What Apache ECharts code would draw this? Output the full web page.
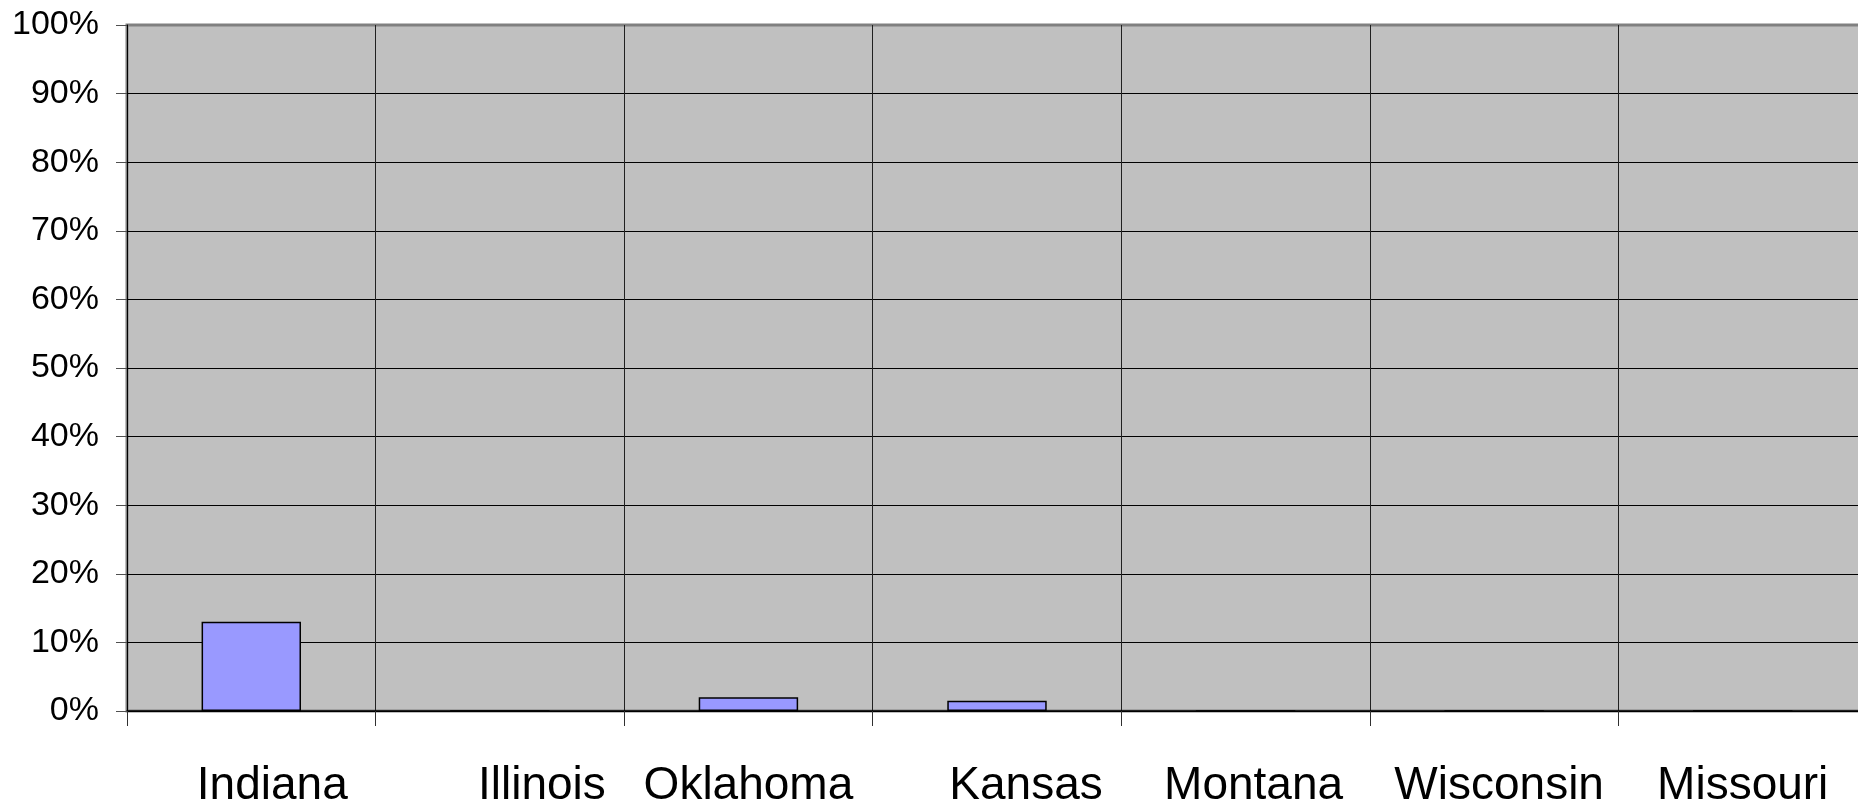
<!DOCTYPE html>
<html>
<head>
<meta charset="utf-8">
<title>Share by state</title>
<script src="https://cdn.jsdelivr.net/npm/echarts@6/dist/echarts.min.js"></script>
<style>
  html, body { margin: 0; padding: 0; background: #ffffff; }
  #chart { width: 1858px; height: 808px; }
</style>
</head>
<body>
<div id="chart"></div>
<script>
// Categories and values (percent)
const states = ['Indiana', 'Illinois', 'Oklahoma', 'Kansas', 'Montana', 'Wisconsin', 'Missouri'];
const shares = [13, 0, 2, 1.5, 0, 0, 0];
const yTicks = [0, 10, 20, 30, 40, 50, 60, 70, 80, 90, 100];

// Horizontal nudge (px) of each category label from its slot centre
const labelNudge = [21, 42, 0, 29, 8, 5, 0];

// Grid lines are black; the top one blends with the grey frame
const hLineColors = yTicks.map((t, i) => (i === yTicks.length - 1 ? '#808080' : '#000000'));
const hLineWidths = 1;

const chart = echarts.init(document.getElementById('chart'), null, { renderer: 'canvas' });

chart.setOption({
  animation: false,
  backgroundColor: '#ffffff',
  grid: {
    left: 127, top: 25, bottom: 97, width: 1740,
    outerBoundsMode: 'none',
    containLabel: false,
    show: true,
    backgroundColor: '#C0C0C0',
    borderColor: '#808080',
    borderWidth: 3
  },
  xAxis: {
    type: 'category',
    data: states.map((s, i) => ({
      value: s,
      textStyle: { padding: [0, 0, 0, labelNudge[i] * 2] }
    })),
    boundaryGap: true,
    axisLine: { show: true, lineStyle: { color: '#000000', width: 1.5 } },
    axisTick: { show: true, length: 15, lineStyle: { color: '#303030', width: 1 } },
    splitLine: { show: true, lineStyle: { color: '#202020', width: 1 } },
    axisLabel: {
      interval: 0,
      margin: 52,
      color: '#000000',
      fontFamily: 'Liberation Sans, Arial, sans-serif',
      fontSize: 46
    }
  },
  yAxis: {
    type: 'value',
    min: yTicks[0],
    max: yTicks[yTicks.length - 1],
    interval: yTicks[1] - yTicks[0],
    axisLine: { show: true, lineStyle: { color: '#000000', width: 1 } },
    axisTick: { show: true, length: 11, lineStyle: { color: '#505050', width: 1 } },
    splitLine: { show: true, lineStyle: { color: hLineColors, width: hLineWidths } },
    axisLabel: {
      margin: 28,
      color: '#000000',
      fontFamily: 'Liberation Sans, Arial, sans-serif',
      fontSize: 34,
      formatter: '{value}%'
    }
  },
  series: [{
    type: 'bar',
    data: shares,
    barWidth: '40%',
    itemStyle: {
      color: '#9999FF',
      borderColor: '#000000',
      borderWidth: 1.5
    }
  }]
});
</script>
</body>
</html>
